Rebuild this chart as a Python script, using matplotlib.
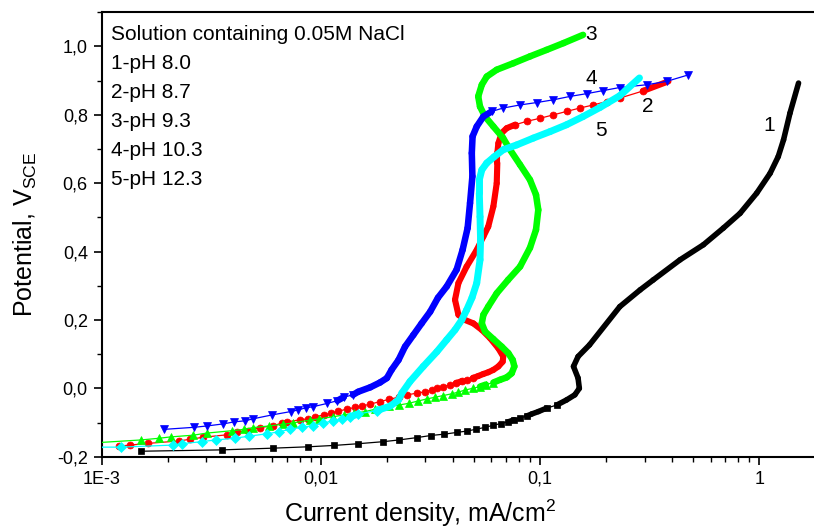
import numpy as np
import matplotlib
matplotlib.use("Agg")
from matplotlib import pyplot as plt
from matplotlib.collections import LineCollection
from matplotlib.ticker import FixedLocator, LogLocator, MultipleLocator, FuncFormatter

plt.rcParams['font.family'] = ['Liberation Sans', 'DejaVu Sans']

############# Data #############

# current density, mA/cm2 / potential, V vs SCE
i_ph80 = [1.51e-3, 3.55e-3, 6.07e-3, 8.76e-3, 0.0115, 0.0148, 0.0193, 0.0227, 0.0275, 0.0317,
          0.0366, 0.0417, 0.0463, 0.0508, 0.0562, 0.0612, 0.0661, 0.0716, 0.0762, 0.0809,
          0.0869, 0.0916, 0.0982, 0.107, 0.119, 0.132, 0.144, 0.151, 0.149, 0.142,
          0.149, 0.168, 0.231, 0.286, 0.328, 0.435, 0.556, 0.686, 0.817, 0.973,
          1.12, 1.22, 1.29, 1.38, 1.51]
e_ph80 = [-0.184, -0.180, -0.175, -0.171, -0.167, -0.162, -0.156, -0.151, -0.144, -0.138,
          -0.134, -0.129, -0.125, -0.120, -0.114, -0.108, -0.103, -0.098, -0.092, -0.087,
          -0.081, -0.075, -0.068, -0.058, -0.049, -0.034, -0.019, 0.000, 0.030, 0.064,
          0.093, 0.127, 0.239, 0.288, 0.317, 0.376, 0.420, 0.469, 0.512, 0.571,
          0.629, 0.678, 0.727, 0.805, 0.893]

i_ph87 = [1.20e-3, 1.35e-3, 1.63e-3, 2.25e-3, 2.53e-3, 2.91e-3, 3.72e-3, 4.13e-3, 4.66e-3, 5.27e-3,
          6.07e-3, 6.63e-3, 7.03e-3, 8.03e-3, 8.76e-3, 9.40e-3, 0.0103, 0.0111, 0.0120, 0.0131,
          0.0143, 0.0154, 0.0168, 0.0186, 0.0205, 0.0226, 0.0248, 0.0274, 0.0299, 0.0320,
          0.0340, 0.0362, 0.0388, 0.0413, 0.0439, 0.0462, 0.0493, 0.0522, 0.0551, 0.0580,
          0.0612, 0.0645, 0.0675, 0.0679, 0.0645, 0.0591, 0.0542, 0.0496, 0.0454, 0.0424,
          0.0409, 0.0424, 0.0462, 0.0514, 0.0551, 0.0580, 0.0612, 0.0634, 0.0638, 0.0638,
          0.0645, 0.0668, 0.0704, 0.0768, 0.0869, 0.0999, 0.115, 0.132, 0.152, 0.175,
          0.201, 0.231, 0.295, 0.385]
e_ph87 = [-0.169, -0.166, -0.161, -0.154, -0.149, -0.143, -0.136, -0.127, -0.124, -0.115,
          -0.109, -0.102, -0.098, -0.092, -0.089, -0.083, -0.078, -0.073, -0.067, -0.061,
          -0.056, -0.052, -0.046, -0.039, -0.032, -0.026, -0.019, -0.014, -0.010, -0.005,
          0.000, 0.005, 0.010, 0.015, 0.021, 0.025, 0.030, 0.036, 0.042, 0.047,
          0.054, 0.064, 0.078, 0.093, 0.117, 0.147, 0.171, 0.190, 0.200, 0.215,
          0.259, 0.308, 0.356, 0.405, 0.444, 0.473, 0.532, 0.600, 0.659, 0.688,
          0.717, 0.747, 0.761, 0.771, 0.781, 0.790, 0.800, 0.810, 0.820, 0.829,
          0.839, 0.849, 0.870, 0.898]

i_ph93 = [0.95e-3, 1.51e-3, 1.83e-3, 2.07e-3, 2.62e-3, 3.01e-3, 3.92e-3, 4.46e-3, 4.89e-3, 5.82e-3,
          6.74e-3, 7.48e-3, 8.92e-3, 9.83e-3, 0.0114, 0.0127, 0.0141, 0.0159, 0.0177, 0.0205,
          0.0226, 0.0251, 0.0278, 0.0304, 0.0332, 0.0362, 0.0395, 0.0424, 0.0454, 0.0493,
          0.0532, 0.0566, 0.0612, 0.0657, 0.0704, 0.0742, 0.0763, 0.0750, 0.0716, 0.0668,
          0.0612, 0.0561, 0.0542, 0.0551, 0.0580, 0.0634, 0.0714, 0.0810, 0.0899, 0.0958,
          0.0981, 0.0958, 0.0899, 0.0810, 0.0729, 0.0677, 0.0612, 0.0561, 0.0532, 0.0522,
          0.0542, 0.0571, 0.0634, 0.0755, 0.0899, 0.107, 0.128, 0.157]
e_ph93 = [-0.159, -0.151, -0.146, -0.142, -0.137, -0.131, -0.124, -0.120, -0.115, -0.110,
          -0.105, -0.101, -0.093, -0.089, -0.083, -0.078, -0.073, -0.068, -0.061, -0.052,
          -0.049, -0.044, -0.037, -0.031, -0.026, -0.021, -0.016, -0.011, -0.005, 0.000,
          0.005, 0.011, 0.017, 0.025, 0.032, 0.044, 0.064, 0.083, 0.103, 0.122,
          0.144, 0.166, 0.190, 0.215, 0.239, 0.278, 0.317, 0.356, 0.411, 0.464,
          0.522, 0.566, 0.610, 0.654, 0.698, 0.733, 0.766, 0.795, 0.824, 0.854,
          0.888, 0.912, 0.932, 0.951, 0.971, 0.990, 1.010, 1.034]

i_ph103 = [1.93e-3, 2.64e-3, 3.03e-3, 3.59e-3, 4.03e-3, 4.51e-3, 4.92e-3, 5.96e-3, 7.28e-3, 7.89e-3,
           8.53e-3, 9.18e-3, 0.0107, 0.0119, 0.0127, 0.0140, 0.0148, 0.0168, 0.0186, 0.0200,
           0.0210, 0.0226, 0.0242, 0.0264, 0.0288, 0.0315, 0.0342, 0.0375, 0.0416, 0.0443,
           0.0467, 0.0479, 0.0491, 0.0488, 0.0492, 0.0514, 0.0551, 0.0601, 0.0679, 0.0810,
           0.0965, 0.115, 0.137, 0.163, 0.194, 0.231, 0.306, 0.378, 0.475]
e_ph103 = [-0.120, -0.114, -0.110, -0.104, -0.098, -0.095, -0.089, -0.078, -0.068, -0.063,
           -0.057, -0.054, -0.044, -0.036, -0.026, -0.019, -0.010, 0.003, 0.017, 0.030,
           0.054, 0.083, 0.122, 0.156, 0.190, 0.224, 0.265, 0.298, 0.347, 0.405,
           0.469, 0.542, 0.620, 0.688, 0.737, 0.766, 0.795, 0.810, 0.820, 0.829,
           0.836, 0.844, 0.854, 0.862, 0.871, 0.880, 0.888, 0.898, 0.917]

i_ph123 = [0.95e-3, 1.23e-3, 2.11e-3, 2.32e-3, 2.86e-3, 3.31e-3, 4.04e-3, 4.70e-3, 5.66e-3, 6.46e-3,
           7.23e-3, 8.18e-3, 9.23e-3, 0.0102, 0.0114, 0.0125, 0.0136, 0.0148, 0.0180, 0.0207,
           0.0226, 0.0234, 0.0255, 0.0293, 0.0338, 0.0375, 0.0409, 0.0439, 0.0462, 0.0489,
           0.0514, 0.0532, 0.0535, 0.0532, 0.0528, 0.0528, 0.0542, 0.0571, 0.0616, 0.0679,
           0.0782, 0.0931, 0.111, 0.132, 0.157, 0.188, 0.231, 0.284]
e_ph123 = [-0.172, -0.172, -0.166, -0.162, -0.156, -0.151, -0.146, -0.140, -0.133, -0.127,
           -0.120, -0.114, -0.109, -0.102, -0.095, -0.090, -0.083, -0.075, -0.065, -0.052,
           -0.034, -0.014, 0.020, 0.064, 0.107, 0.142, 0.171, 0.200, 0.229, 0.265,
           0.308, 0.376, 0.434, 0.502, 0.571, 0.610, 0.639, 0.659, 0.677, 0.698,
           0.712, 0.732, 0.751, 0.771, 0.795, 0.822, 0.856, 0.908]

info_lines = ["Solution containing 0.05M NaCl", "1-pH 8.0", "2-pH 8.7", "3-pH 9.3", "4-pH 10.3", "5-pH 12.3"]
x_ticks = [1e-3, 1e-2, 1e-1, 1]
x_ticklabels = ["1E-3", "0,01", "0,1", "1"]


def draw_curve(ax, i, e, color, marker, ms, band, z):
    """
    Thin line with markers where the curve is flat; where the curve climbs the
    recorded points sit so close that they merge into a thick band.
    """
    i = np.asarray(i)
    e = np.asarray(e)
    pts = ax.transData.transform(np.column_stack([i, e]))
    dx = np.abs(np.diff(pts[:, 0]))
    dy = np.abs(np.diff(pts[:, 1]))
    steep = dx < 3.0 * dy

    ax.plot(i, e, color=color, lw=0.9, zorder=z)

    flat_pt = np.zeros(len(i), dtype=bool)
    flat_pt[:-1] |= ~steep
    flat_pt[1:] |= ~steep
    ax.plot(i[flat_pt], e[flat_pt], ls='none', marker=marker, ms=ms,
            mfc=color, mec=color, mew=0.5, zorder=z)

    segs = [[(i[k], e[k]), (i[k + 1], e[k + 1])] for k in np.where(steep)[0]]
    lc = LineCollection(segs, colors=color, linewidths=band, capstyle='round', zorder=z)
    ax.add_collection(lc)


def comma(v, pos):
    return ("%.1f" % v).replace(".", ",")


def main():
    fig = plt.figure(figsize=(8.14, 5.29), dpi=100)
    ax = fig.add_axes([101.7 / 814, (529 - 456.7) / 529, 712.3 / 814, 444.4 / 529])

    ax.set_xscale('log')
    ax.set_xlim(1e-3, 10 ** 0.2495)
    ax.set_ylim(-0.2, 1.1)

    draw_curve(ax, i_ph80, e_ph80, '#000000', 's', 4.2, 4.0, 3)
    draw_curve(ax, i_ph87, e_ph87, '#ff0000', 'o', 5.0, 4.4, 4)
    draw_curve(ax, i_ph93, e_ph93, '#00ff00', '^', 5.8, 4.7, 5)
    draw_curve(ax, i_ph103, e_ph103, '#0000ff', 'v', 5.8, 4.7, 6)
    draw_curve(ax, i_ph123, e_ph123, '#00ffff', 'D', 4.6, 5.0, 7)

    # curve numbers
    ax.text(1.107, 0.768, "1", fontsize=15, ha='center', va='center')
    ax.text(0.3106, 0.824, "2", fontsize=15, ha='center', va='center')
    ax.text(0.1707, 1.034, "3", fontsize=15, ha='center', va='center')
    ax.text(0.1707, 0.905, "4", fontsize=15, ha='center', va='center')
    ax.text(0.1894, 0.753, "5", fontsize=15, ha='center', va='center')

    for k, line in enumerate(info_lines):
        fig.text(111 / 814, 1 - (35 + 28.9 * k) / 529, line, fontsize=15, ha='left', va='center')

    # axes styling
    ax.spines['right'].set_visible(False)
    for s in ['left', 'bottom', 'top']:
        ax.spines[s].set_linewidth(1.5)

    ax.xaxis.set_major_locator(FixedLocator(x_ticks))
    ax.set_xticklabels(x_ticklabels)
    ax.xaxis.set_minor_locator(LogLocator(base=10, subs=np.arange(2, 10)))
    ax.xaxis.set_minor_formatter(FuncFormatter(lambda v, p: ""))
    ax.yaxis.set_major_locator(MultipleLocator(0.2))
    ax.yaxis.set_minor_locator(MultipleLocator(0.1))
    ax.yaxis.set_major_formatter(FuncFormatter(comma))

    ax.tick_params(which='major', direction='out', length=6, width=1.2, labelsize=13, pad=4)
    ax.tick_params(which='minor', direction='out', length=3.5, width=1.0)
    ax.tick_params(top=False, right=False, which='both')

    fig.text(420 / 814, 1 - 513 / 529, "Current density, mA/cm$^\\mathregular{2}$",
             fontsize=18, ha='center', va='center')
    fig.text(25 / 814, 1 - 234 / 529, "Potential, V$_\\mathregular{SCE}$",
             fontsize=18, ha='center', va='center', rotation=90)

    fig.savefig("out.png", dpi=100)


if __name__ == "__main__":
    main()
